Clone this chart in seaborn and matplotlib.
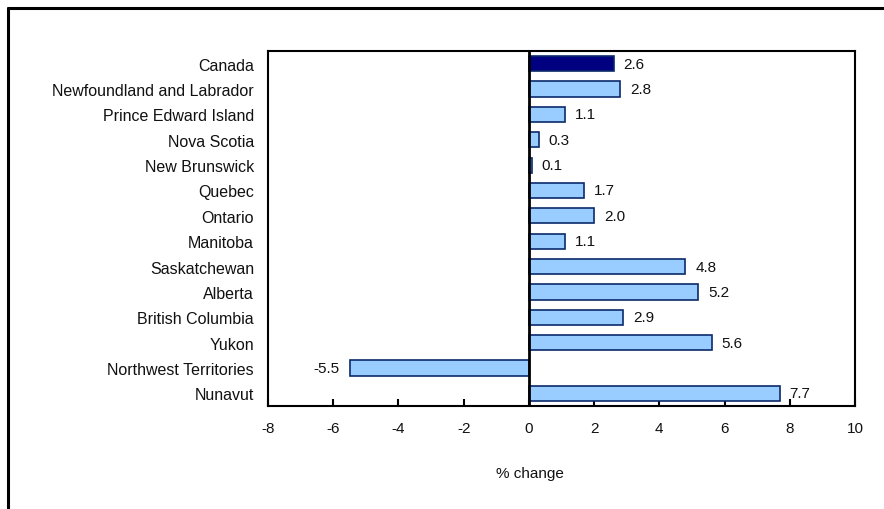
import matplotlib
matplotlib.use("Agg")
import matplotlib.pyplot as plt
import seaborn as sns
import pandas as pd
from matplotlib.lines import Line2D

regions = [
    "Canada", "Newfoundland and Labrador", "Prince Edward Island", "Nova Scotia",
    "New Brunswick", "Quebec", "Ontario", "Manitoba", "Saskatchewan", "Alberta",
    "British Columbia", "Yukon", "Northwest Territories", "Nunavut",
]
pct_change = [2.6, 2.8, 1.1, 0.3, 0.1, 1.7, 2.0, 1.1, 4.8, 5.2, 2.9, 5.6, -5.5, 7.7]
x_ticks = [-8, -6, -4, -2, 0, 2, 4, 6, 8, 10]

df = pd.DataFrame({"region": regions, "change": pct_change})
df["group"] = ["national"] + ["provincial"] * (len(regions) - 1)

sns.set_theme(style="white")
plt.rcParams["font.family"] = ["Liberation Sans", "DejaVu Sans"]

fig = plt.figure(figsize=(8.84, 5.10), dpi=100)
ax = fig.add_axes([268 / 884, 1 - 407 / 510, (855 - 268) / 884, (407 - 52) / 510])

sns.barplot(
    data=df, y="region", x="change", hue="group", orient="h",
    palette={"national": "#000080", "provincial": "#99CCFF"},
    saturation=1, edgecolor="#0B2A6B", linewidth=1.2, width=0.6, dodge=False,
    legend=False, ax=ax,
)

ax.set_xlim(-8, 10)
ax.set_ylim(len(regions) - 0.5, -0.5)
ax.set_xticks(x_ticks)
ax.set_xticklabels([str(t) for t in x_ticks], fontsize=11)
ax.tick_params(axis="x", direction="in", length=5, width=1.5, color="black",
               pad=11, bottom=True, labelcolor="#111111")
ax.tick_params(axis="y", length=0, pad=10, labelsize=11.5, labelcolor="#111111")
ax.set_ylabel("")
ax.set_xlabel("% change", fontsize=11, labelpad=22, color="#111111")
ax.xaxis.label.set_position(((530 - 268) / (855 - 268), 0))

for spine in ax.spines.values():
    spine.set_visible(True)
    spine.set_color("black")
    spine.set_linewidth(1.5)

ax.axvline(0, color="black", linewidth=2, zorder=5)

for i, v in enumerate(pct_change):
    if v >= 0:
        ax.annotate(f"{v:.1f}", (v, i), xytext=(7, 0), textcoords="offset points",
                    ha="left", va="center", fontsize=11, color="#111111")
    else:
        ax.annotate(f"{v:.1f}", (v, i), xytext=(-7, 0), textcoords="offset points",
                    ha="right", va="center", fontsize=11, color="#111111")

# outer frame (top and left edges visible)
fig.add_artist(Line2D([8 / 884, 1.0], [1 - 9 / 510, 1 - 9 / 510],
                      transform=fig.transFigure, color="black", linewidth=2.2))
fig.add_artist(Line2D([8 / 884, 8 / 884], [0, 1 - 9 / 510],
                      transform=fig.transFigure, color="black", linewidth=2.2))

fig.savefig("out.png", dpi=100)
